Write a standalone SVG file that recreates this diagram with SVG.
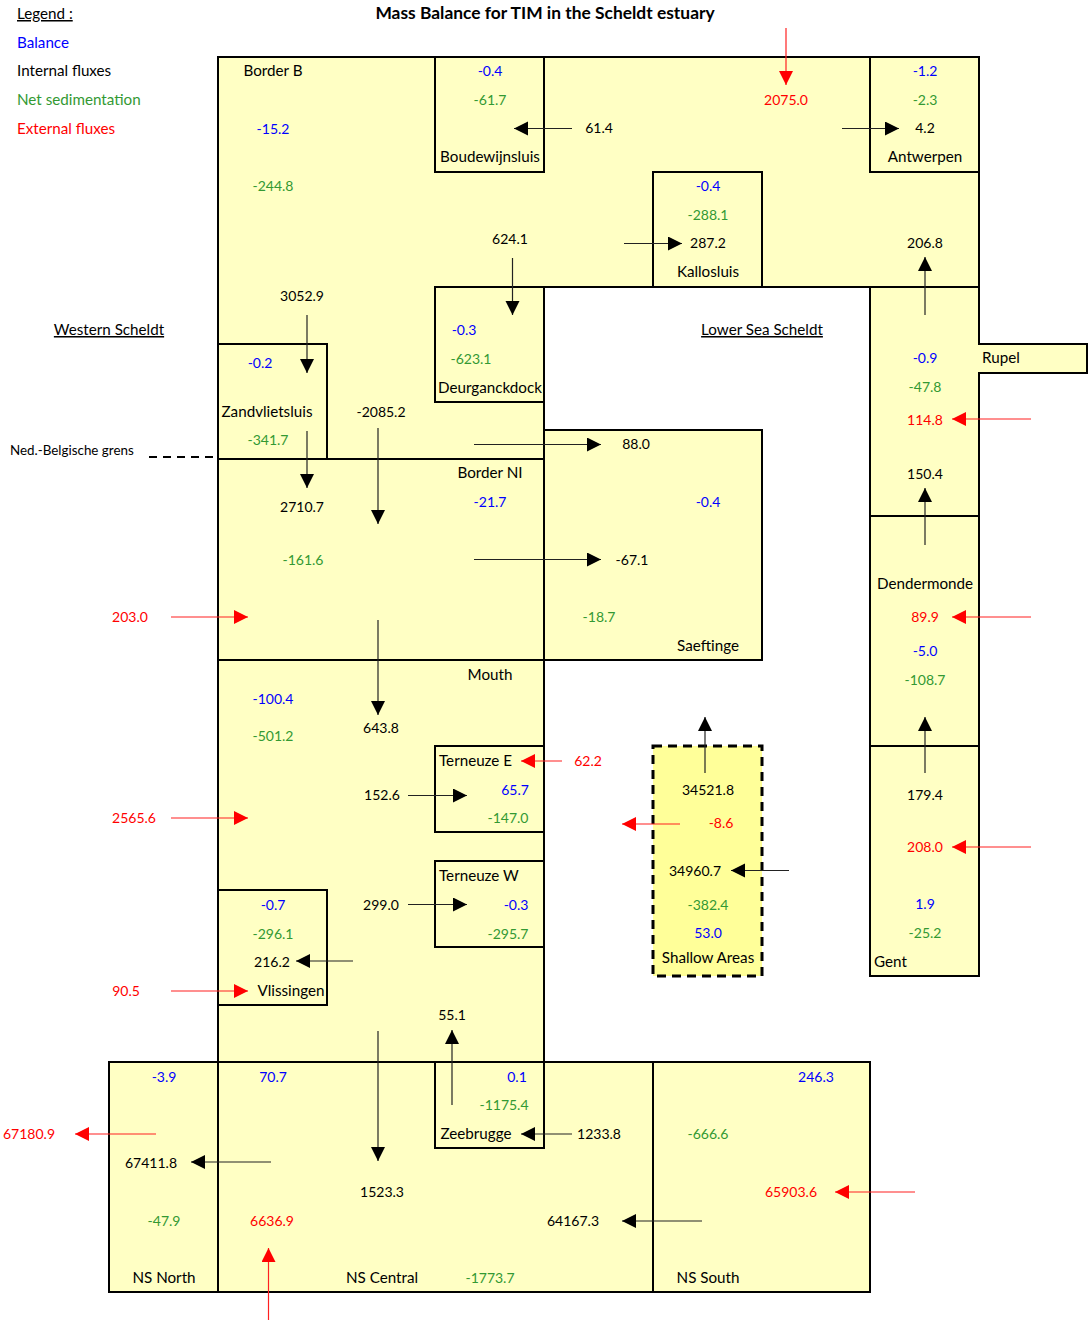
<svg xmlns="http://www.w3.org/2000/svg" width="1088" height="1320" viewBox="0 0 1088 1320">
<style>
text{font-family:Lato,"Liberation Sans",sans-serif;font-size:14px;fill:#000}
.L{font-size:15.2px}
.c{text-anchor:middle}
.b{fill:#0000ff}
.g{fill:#339933}
.r{fill:#ff0000}
.u{text-decoration:underline}
.box{fill:#ffffc4;stroke:#000;stroke-width:2}
.sh{fill:#ffff99;stroke:#000;stroke-width:3;stroke-dasharray:9,6}
.ia{stroke:#222;stroke-width:1.2;fill:none;marker-end:url(#ak)}
.ea{stroke:#ff2020;stroke-width:1.2;fill:none;marker-end:url(#ar)}
</style>
<defs>
<marker id="ak" markerUnits="userSpaceOnUse" markerWidth="16" markerHeight="16" refX="14" refY="7" orient="auto"><path d="M0,0 L14,7 L0,14 z" fill="#000"/></marker>
<marker id="ar" markerUnits="userSpaceOnUse" markerWidth="16" markerHeight="16" refX="14" refY="7" orient="auto"><path d="M0,0 L14,7 L0,14 z" fill="#ff0000"/></marker>
<clipPath id="cd"><rect x="435" y="287" width="109" height="115"/></clipPath>
</defs>

<g id="legend">
<text x="17" y="19" class="u L">Legend :</text>
<text x="17" y="48" class="b L">Balance</text>
<text x="17" y="76" class="L">Internal fluxes</text>
<text x="17" y="105" class="g L">Net sedimentation</text>
<text x="17" y="134" class="r L">External fluxes</text>
<text x="545" y="19" class="c" style="font-weight:bold;font-size:17.4px">Mass Balance for TIM in the Scheldt estuary</text>
<text x="109" y="335" class="c u L">Western Scheldt</text>
<text x="762" y="335" class="c u L">Lower Sea Scheldt</text>
<text x="10" y="455" style="font-size:13.4px">Ned.-Belgische grens</text>
<line x1="149" y1="457" x2="218" y2="457" stroke="#000" stroke-width="2" stroke-dasharray="8,6"/>
</g>

<g id="borderB">
<path class="box" d="M218,57 H979 V287 H544 V459 H218 Z"/>
<text x="273" y="76" class="c L">Border B</text>
<text x="273" y="134" class="c b">-15.2</text>
<text x="273" y="191" class="c g">-244.8</text>
<text x="786" y="105" class="c r">2075.0</text>
<text x="599" y="133" class="c">61.4</text>
<text x="510" y="244" class="c">624.1</text>
<text x="925" y="248" class="c">206.8</text>
<text x="302" y="301" class="c">3052.9</text>
<text x="381" y="417" class="c">-2085.2</text>
</g>

<g id="boudewijnsluis">
<rect class="box" x="435" y="57" width="109" height="115"/>
<text x="490" y="76" class="c b">-0.4</text>
<text x="490" y="105" class="c g">-61.7</text>
<text x="490" y="162" class="c L">Boudewijnsluis</text>
</g>

<g id="antwerpen">
<rect class="box" x="870" y="57" width="109" height="115"/>
<text x="925" y="76" class="c b">-1.2</text>
<text x="925" y="105" class="c g">-2.3</text>
<text x="925" y="133" class="c">4.2</text>
<text x="925" y="162" class="c L">Antwerpen</text>
</g>

<g id="kallosluis">
<rect class="box" x="653" y="172" width="109" height="115"/>
<text x="708" y="191" class="c b">-0.4</text>
<text x="708" y="220" class="c g">-288.1</text>
<text x="708" y="248" class="c">287.2</text>
<text x="708" y="277" class="c L">Kallosluis</text>
</g>

<g id="deurganckdock">
<rect class="box" x="435" y="287" width="109" height="115"/>
<text x="464" y="335" class="c b">-0.3</text>
<text x="471" y="364" class="c g">-623.1</text>
<text x="438" y="393" class="L" clip-path="url(#cd)">Deurganckdock</text>
</g>

<g id="zandvlietsluis">
<rect class="box" x="218" y="344" width="109" height="115"/>
<text x="260" y="368" class="c b">-0.2</text>
<text x="267" y="417" class="c L">Zandvlietsluis</text>
<text x="268" y="445" class="c g">-341.7</text>
</g>

<g id="borderNL">
<rect class="box" x="218" y="459" width="326" height="201"/>
<text x="490" y="478" class="c L">Border NI</text>
<text x="490" y="507" class="c b">-21.7</text>
<text x="302" y="512" class="c">2710.7</text>
<text x="303" y="565" class="c g">-161.6</text>
<text x="130" y="622" class="c r">203.0</text>
</g>

<g id="saeftinge">
<rect class="box" x="544" y="430" width="218" height="230"/>
<text x="636" y="449" class="c">88.0</text>
<text x="708" y="507" class="c b">-0.4</text>
<text x="632" y="565" class="c">-67.1</text>
<text x="599" y="622" class="c g">-18.7</text>
<text x="708" y="651" class="c L">Saeftinge</text>
</g>

<g id="mouth">
<rect class="box" x="218" y="660" width="326" height="402"/>
<text x="490" y="680" class="c L">Mouth</text>
<text x="273" y="704" class="c b">-100.4</text>
<text x="273" y="741" class="c g">-501.2</text>
<text x="381" y="733" class="c">643.8</text>
<text x="382" y="800" class="c">152.6</text>
<text x="134" y="823" class="c r">2565.6</text>
<text x="381" y="910" class="c">299.0</text>
<text x="452" y="1020" class="c">55.1</text>
<text x="126" y="996" class="c r">90.5</text>
<text x="588" y="766" class="c r">62.2</text>
</g>

<g id="terneuzeE">
<rect class="box" x="435" y="746" width="109" height="86"/>
<text x="439" y="766" class="L">Terneuze E</text>
<text x="515" y="795" class="c b">65.7</text>
<text x="508" y="823" class="c g">-147.0</text>
</g>

<g id="terneuzeW">
<rect class="box" x="435" y="861" width="109" height="86"/>
<text x="439" y="881" class="L">Terneuze W</text>
<text x="516" y="910" class="c b">-0.3</text>
<text x="508" y="939" class="c g">-295.7</text>
</g>

<g id="vlissingen">
<rect class="box" x="218" y="890" width="109" height="115"/>
<text x="273" y="910" class="c b">-0.7</text>
<text x="273" y="939" class="c g">-296.1</text>
<text x="272" y="967" class="c">216.2</text>
<text x="291" y="996" class="c L">Vlissingen</text>
</g>

<g id="shallowAreas">
<rect class="sh" x="653" y="746" width="109" height="230"/>
<text x="708" y="795" class="c">34521.8</text>
<text x="721" y="828" class="c r">-8.6</text>
<text x="695" y="876" class="c">34960.7</text>
<text x="708" y="910" class="c g">-382.4</text>
<text x="708" y="938" class="c b">53.0</text>
<text x="708" y="963" class="c L">Shallow Areas</text>
</g>

<g id="rupel">
<path class="box" d="M870,287 H979 V344 H1087 V373 H979 V516 H870 Z"/>
<text x="925" y="363" class="c b">-0.9</text>
<text x="982" y="363" class="L">Rupel</text>
<text x="925" y="392" class="c g">-47.8</text>
<text x="925" y="425" class="c r">114.8</text>
<text x="925" y="479" class="c">150.4</text>
</g>

<g id="dendermonde">
<rect class="box" x="870" y="516" width="109" height="230"/>
<text x="925" y="589" class="c L">Dendermonde</text>
<text x="925" y="622" class="c r">89.9</text>
<text x="925" y="656" class="c b">-5.0</text>
<text x="925" y="685" class="c g">-108.7</text>
</g>

<g id="gent">
<rect class="box" x="870" y="746" width="109" height="230"/>
<text x="925" y="800" class="c">179.4</text>
<text x="925" y="852" class="c r">208.0</text>
<text x="925" y="909" class="c b">1.9</text>
<text x="925" y="938" class="c g">-25.2</text>
<text x="874" y="967" class="L">Gent</text>
</g>

<g id="nsNorth">
<rect class="box" x="109" y="1062" width="109" height="230"/>
<text x="164" y="1082" class="c b">-3.9</text>
<text x="29" y="1139" class="c r">67180.9</text>
<text x="151" y="1168" class="c">67411.8</text>
<text x="164" y="1226" class="c g">-47.9</text>
<text x="164" y="1283" class="c L">NS North</text>
</g>

<g id="nsCentral">
<rect class="box" x="218" y="1062" width="435" height="230"/>
<text x="273" y="1082" class="c b">70.7</text>
<text x="599" y="1139" class="c">1233.8</text>
<text x="382" y="1197" class="c">1523.3</text>
<text x="272" y="1226" class="c r">6636.9</text>
<text x="573" y="1226" class="c">64167.3</text>
<text x="382" y="1283" class="c L">NS Central</text>
<text x="490" y="1283" class="c g">-1773.7</text>
</g>

<g id="zeebrugge">
<rect class="box" x="435" y="1062" width="109" height="86"/>
<text x="517" y="1082" class="c b">0.1</text>
<text x="504" y="1110" class="c g">-1175.4</text>
<text x="476" y="1139" class="c L">Zeebrugge</text>
</g>

<g id="nsSouth">
<rect class="box" x="653" y="1062" width="217" height="230"/>
<text x="816" y="1082" class="c b">246.3</text>
<text x="708" y="1139" class="c g">-666.6</text>
<text x="791" y="1197" class="c r">65903.6</text>
<text x="708" y="1283" class="c L">NS South</text>
</g>

<g id="connectors">
<line class="ia" x1="572" y1="128.5" x2="514" y2="128.5"/>
<line class="ia" x1="842" y1="128.5" x2="899" y2="128.5"/>
<line class="ia" x1="624" y1="243.5" x2="682" y2="243.5"/>
<line class="ia" x1="512.5" y1="258" x2="512.5" y2="315"/>
<line class="ia" x1="925" y1="315" x2="925" y2="257"/>
<line class="ia" x1="307" y1="315" x2="307" y2="373"/>
<line class="ia" x1="307" y1="431" x2="307" y2="488"/>
<line class="ia" x1="378" y1="428" x2="378" y2="524"/>
<line class="ia" x1="474" y1="444.5" x2="601" y2="444.5"/>
<line class="ia" x1="474" y1="559.5" x2="601" y2="559.5"/>
<line class="ia" x1="378" y1="620" x2="378" y2="715"/>
<line class="ia" x1="408" y1="795.5" x2="467" y2="795.5"/>
<line class="ia" x1="408" y1="904.5" x2="467" y2="904.5"/>
<line class="ia" x1="353" y1="961" x2="296" y2="961"/>
<line class="ia" x1="452" y1="1105" x2="452" y2="1030"/>
<line class="ia" x1="378" y1="1031" x2="378" y2="1161"/>
<line class="ia" x1="705" y1="773" x2="705" y2="717"/>
<line class="ia" x1="789" y1="870.5" x2="731" y2="870.5"/>
<line class="ia" x1="925" y1="545" x2="925" y2="488"/>
<line class="ia" x1="925" y1="773" x2="925" y2="717"/>
<line class="ia" x1="271" y1="1162" x2="191" y2="1162"/>
<line class="ia" x1="572" y1="1134" x2="521" y2="1134"/>
<line class="ia" x1="702" y1="1221" x2="622" y2="1221"/>
<line class="ea" x1="786" y1="28" x2="786" y2="85"/>
<line class="ea" x1="171" y1="617" x2="248" y2="617"/>
<line class="ea" x1="562" y1="761" x2="521" y2="761"/>
<line class="ea" x1="171" y1="818" x2="248" y2="818"/>
<line class="ea" x1="171" y1="991" x2="248" y2="991"/>
<line class="ea" x1="680" y1="824" x2="622" y2="824"/>
<line class="ea" x1="1031" y1="419" x2="952" y2="419"/>
<line class="ea" x1="1031" y1="617" x2="952" y2="617"/>
<line class="ea" x1="1031" y1="847" x2="952" y2="847"/>
<line class="ea" x1="156" y1="1134" x2="75" y2="1134"/>
<line class="ea" x1="268.5" y1="1320" x2="268.5" y2="1248"/>
<line class="ea" x1="915" y1="1192" x2="835" y2="1192"/>
</g>
</svg>
